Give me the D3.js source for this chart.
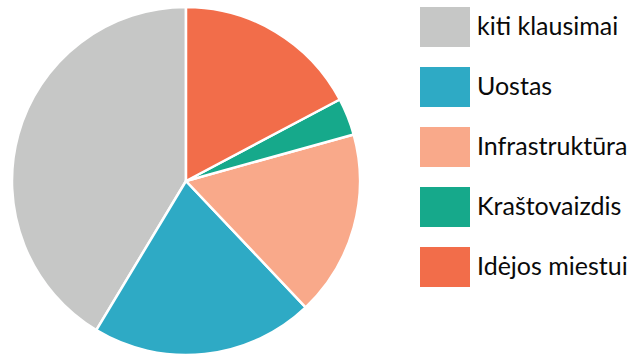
<!DOCTYPE html>
<html>
<head>
<meta charset="utf-8">
<script src="https://cdn.jsdelivr.net/npm/d3@7"></script>
<style>
  html, body { margin: 0; padding: 0; background: #fff; }
  svg { display: block; }
</style>
</head>
<body>
<svg id="chart" width="640" height="354"></svg>
<script>
// Topics and how many questions fell into each
const categories = ["kiti klausimai", "Uostas", "Infrastruktūra", "Kraštovaizdis", "Idėjos miestui"];
const counts = [12, 6, 5, 1, 5];
const colors = ["#c6c7c6", "#2eaac5", "#f9a98a", "#16a98b", "#f26d4a"];

const data = categories.map((name, i) => ({ name, value: counts[i] }));

const svg = d3.select("#chart");
const cx = 186, cy = 181, radius = 174;

const color = d3.scaleOrdinal().domain(categories).range(colors);

// Slices run counter-clockwise from 12 o'clock in legend order
const pie = d3.pie()
  .sort(null)
  .value(d => d.value)
  .startAngle(0)
  .endAngle(-2 * Math.PI);

const arc = d3.arc().innerRadius(0).outerRadius(radius);

svg.append("g")
  .attr("transform", `translate(${cx},${cy})`)
  .selectAll("path")
  .data(pie(data))
  .join("path")
  .attr("d", arc)
  .attr("fill", d => color(d.data.name))
  .attr("stroke", "#fff")
  .attr("stroke-width", 2.5)
  .attr("stroke-linejoin", "round");

// Legend
const legend = svg.append("g").attr("transform", "translate(420,7)");
const item = legend.selectAll("g")
  .data(categories)
  .join("g")
  .attr("transform", (d, i) => `translate(0,${i * 60})`);

item.append("rect")
  .attr("width", 50)
  .attr("height", 40)
  .attr("fill", d => color(d));

item.append("text")
  .attr("x", 57)
  .attr("y", 28)
  .attr("font-family", "Lato, 'Open Sans', sans-serif")
  .attr("font-size", 25)
  .attr("fill", "#0a0a0a")
  .text(d => d);
</script>
</body>
</html>
